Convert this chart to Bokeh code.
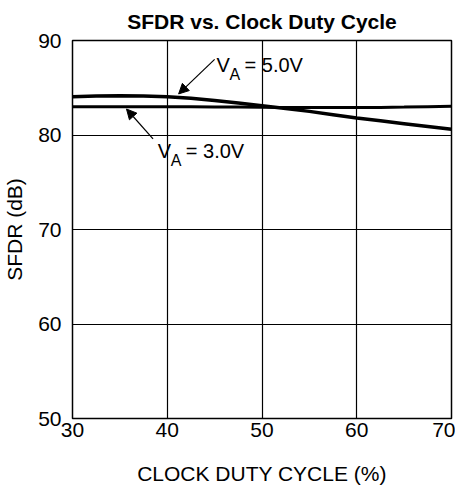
from bokeh.plotting import figure
from bokeh.models import Range1d, FixedTicker, Arrow, NormalHead, Label
from bokeh.embed import file_html
from bokeh.resources import INLINE

# Data
duty = [30, 32.5, 35, 37.5, 40, 42.5, 45, 47.5, 50, 52.5, 55, 57.5, 60, 62.5, 65, 67.5, 70]
sfdr_5v = [84.05, 84.12, 84.15, 84.12, 84.05, 83.88, 83.65, 83.38, 83.1, 82.8, 82.5, 82.15, 81.8, 81.5, 81.2, 80.9, 80.6]
sfdr_3v = [83.0, 83.0, 83.0, 83.0, 83.0, 82.98, 82.96, 82.95, 82.93, 82.92, 82.9, 82.9, 82.9, 82.92, 82.95, 83.0, 83.05]
x_ticks = [30, 40, 50, 60, 70]
y_ticks = [50, 60, 70, 80, 90]

FONT = "Liberation Sans"
FS = "21px"

p = figure(frame_width=379, frame_height=378, output_backend="svg", toolbar_location=None,
           x_range=Range1d(30, 70), y_range=Range1d(50, 90),
           min_border_left=65, min_border_right=4, min_border_top=40, min_border_bottom=60)

p.title.text = "SFDR vs. Clock Duty Cycle"
p.title.align = "center"
p.title.text_font = FONT
p.title.text_font_size = FS
p.title.text_font_style = "bold"
p.title.text_color = "black"
p.title.standoff = 15

p.outline_line_color = "black"
p.outline_line_width = 1.5

for ax in (p.xaxis[0], p.yaxis[0]):
    ax.major_tick_line_color = None
    ax.minor_tick_line_color = None
    ax.major_tick_out = 0
    ax.major_tick_in = 0
    ax.minor_tick_out = 0
    ax.axis_line_color = "black"
    ax.major_label_text_font = FONT
    ax.major_label_text_font_size = FS
    ax.major_label_text_color = "black"
    ax.axis_label_text_font = FONT
    ax.axis_label_text_font_size = FS
    ax.axis_label_text_font_style = "normal"
    ax.axis_label_text_color = "black"

p.xaxis.ticker = FixedTicker(ticks=x_ticks)
p.yaxis.ticker = FixedTicker(ticks=y_ticks)
p.xaxis.axis_label = "CLOCK DUTY CYCLE (%)"
p.yaxis.axis_label = "SFDR (dB)"
p.xaxis.major_label_standoff = 4
p.xaxis.axis_label_standoff = 22
p.yaxis.major_label_standoff = 11
p.yaxis.axis_label_standoff = 9

p.xgrid.ticker = FixedTicker(ticks=x_ticks)
p.ygrid.ticker = FixedTicker(ticks=y_ticks)
p.grid.grid_line_color = "black"
p.grid.grid_line_width = 1.2
p.grid.grid_line_alpha = 1.0

p.line(duty, sfdr_5v, line_color="black", line_width=3.5)
p.line(duty, sfdr_3v, line_color="black", line_width=3)

# Annotations
def va_label(x, y, v):
    p.add_layout(Label(x=x, y=y, text="V", text_font=FONT, text_font_size="20px",
                       text_baseline="middle", text_color="black"))
    p.add_layout(Label(x=x, y=y, x_offset=13, y_offset=-9, text="A", text_font=FONT,
                       text_font_size="16px", text_baseline="middle", text_color="black"))
    p.add_layout(Label(x=x, y=y, x_offset=28, text=" = " + v, text_font=FONT,
                       text_font_size="20px", text_baseline="middle", text_color="black"))

va_label(45.2, 87.4, "5.0V")
va_label(39.0, 78.3, "3.0V")

p.add_layout(Arrow(x_start=45.0, y_start=88.0, x_end=41.2, y_end=84.35,
                   line_color="black", line_width=1.2,
                   end=NormalHead(size=10, fill_color="black", line_color="black")))
p.add_layout(Arrow(x_start=38.5, y_start=79.6, x_end=35.7, y_end=82.75,
                   line_color="black", line_width=1.2,
                   end=NormalHead(size=10, fill_color="black", line_color="black")))

open("out.html", "w").write(file_html(p, INLINE))
